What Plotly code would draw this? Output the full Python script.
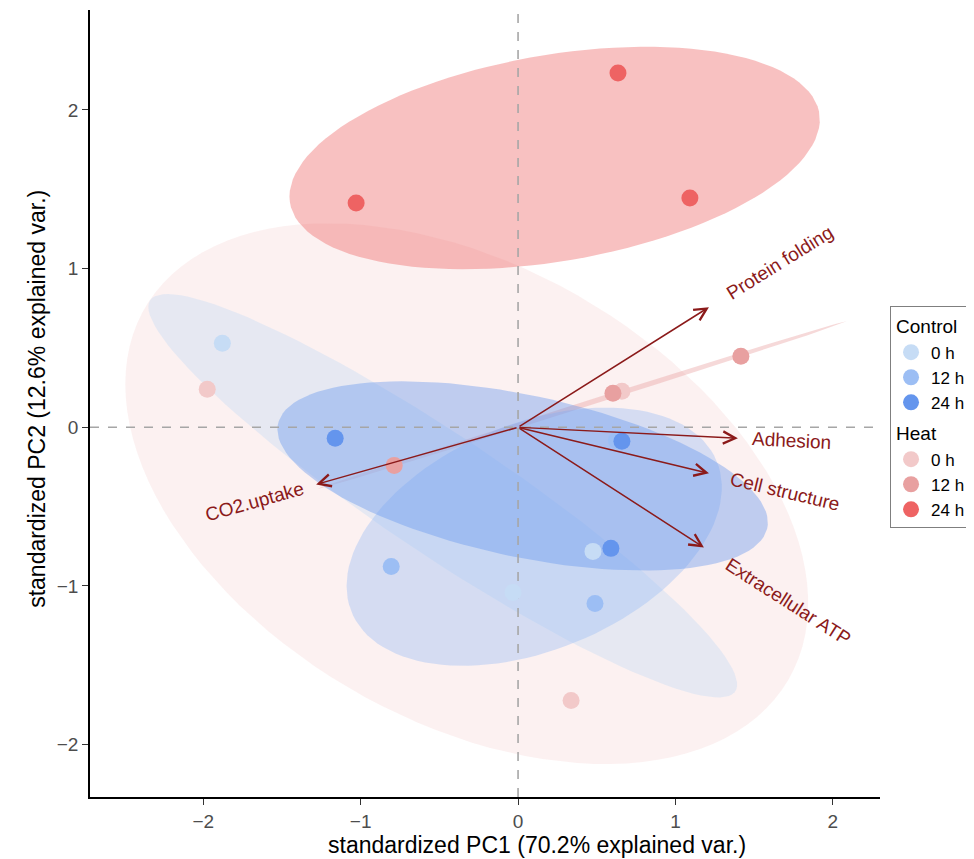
import numpy as np
import plotly.graph_objects as go

# ---------------- data ----------------
time_labels = ["0 h", "12 h", "24 h"]
conditions = ["Control", "Heat"]

control_0h_pc1 = [-1.879, 0.476, -0.032]
control_0h_pc2 = [0.530, -0.782, -1.041]
control_12h_pc1 = [-0.806, 0.489, 0.625]
control_12h_pc2 = [-0.877, -1.110, -0.082]
control_24h_pc1 = [-1.162, 0.590, 0.660]
control_24h_pc2 = [-0.069, -0.763, -0.088]

heat_0h_pc1 = [-1.975, 0.660, 0.337]
heat_0h_pc2 = [0.240, 0.227, -1.722]
heat_12h_pc1 = [1.416, 0.603, -0.787]
heat_12h_pc2 = [0.448, 0.215, -0.240]
heat_24h_pc1 = [0.635, -1.029, 1.092]
heat_24h_pc2 = [2.233, 1.413, 1.445]

var_names = ["Protein folding", "Adhesion", "Cell structure", "Extracellular ATP", "CO2.uptake"]
var_pc1 = [1.213, 1.397, 1.213, 1.181, -1.283]
var_pc2 = [0.757, -0.069, -0.290, -0.757, -0.360]

x_title = "standardized PC1 (70.2% explained var.)"
y_title = "standardized PC2 (12.6% explained var.)"

# ---------------- styles ----------------
group_colors = {
    "Control": ["#C6DCF5", "#9CBEF4", "#6495ED"],
    "Heat": ["#F2C9C9", "#E8A0A0", "#EE6363"],
}
ellipse_alpha = {
    "Control": [0.4, 0.4, 0.4],
    "Heat": [0.26, 0.4, 0.4],
}
label_offset_px = [84, 54, 78, 100, 64]
px_per_unit = 158.0
arrow_color = "#8B1A1A"
FONT = "Liberation Sans, Arial, sans-serif"

groups = {
    ("Control", 0): (control_0h_pc1, control_0h_pc2),
    ("Control", 1): (control_12h_pc1, control_12h_pc2),
    ("Control", 2): (control_24h_pc1, control_24h_pc2),
    ("Heat", 0): (heat_0h_pc1, heat_0h_pc2),
    ("Heat", 1): (heat_12h_pc1, heat_12h_pc2),
    ("Heat", 2): (heat_24h_pc1, heat_24h_pc2),
}


def hex_rgba(h, a):
    h = h.lstrip("#")
    r, g, b = int(h[0:2], 16), int(h[2:4], 16), int(h[4:6], 16)
    return f"rgba({r},{g},{b},{a})"


def normal_ellipse(x, y, prob=0.68, n=120):
    # same construction as ggbiplot: circle %*% chol(sigma) * sqrt(qchisq(prob, 2)) + mu
    pts = np.column_stack([x, y])
    mu = pts.mean(axis=0)
    sigma = np.cov(pts, rowvar=False)
    ed = np.sqrt(-2.0 * np.log(1.0 - prob))
    theta = np.linspace(-np.pi, np.pi, n)
    circle = np.column_stack([np.cos(theta), np.sin(theta)])
    try:
        L = np.linalg.cholesky(sigma).T
    except np.linalg.LinAlgError:
        L = np.linalg.cholesky(sigma + np.eye(2) * 1e-9).T
    e = circle @ L * ed + mu
    return e[:, 0], e[:, 1]


fig = go.Figure()

# ellipses (heat first, then control)
for cond in ["Heat", "Control"]:
    for ti in range(3):
        x, y = groups[(cond, ti)]
        ex, ey = normal_ellipse(x, y)
        fig.add_trace(go.Scatter(
            x=ex, y=ey, mode="lines", fill="toself",
            fillcolor=hex_rgba(group_colors[cond][ti], ellipse_alpha[cond][ti]),
            line=dict(width=0, color=hex_rgba(group_colors[cond][ti], 0)),
            hoverinfo="skip", showlegend=False,
        ))

# dashed reference lines at 0
xr = [-2.72, 2.30]
yr = [-2.33, 2.63]
fig.add_trace(go.Scatter(x=[0, 0], y=yr, mode="lines",
                         line=dict(color="#A6A6A6", width=1.6, dash="dash"),
                         hoverinfo="skip", showlegend=False))
fig.add_trace(go.Scatter(x=xr, y=[0, 0], mode="lines",
                         line=dict(color="#A6A6A6", width=1.6, dash="dash"),
                         hoverinfo="skip", showlegend=False))

# points with legend
for cond in conditions:
    for ti in range(3):
        x, y = groups[(cond, ti)]
        tr = dict(
            x=x, y=y, mode="markers", name=time_labels[ti],
            legendgroup=cond,
            marker=dict(size=17, color=group_colors[cond][ti], line=dict(width=0)),
        )
        if ti == 0:
            tr["legendgrouptitle"] = dict(text=cond, font=dict(size=19, color="black", family=FONT))
        fig.add_trace(go.Scatter(**tr))

# variable arrows and labels
annotations = []
for name, vx, vy, off in zip(var_names, var_pc1, var_pc2, label_offset_px):
    annotations.append(dict(
        x=vx, y=vy, ax=0, ay=0, xref="x", yref="y", axref="x", ayref="y",
        showarrow=True, arrowhead=5, arrowsize=1.6, arrowwidth=1.5,
        arrowcolor=arrow_color, text="",
    ))
    norm = np.hypot(vx, vy)
    ux, uy = vx / norm, vy / norm
    d = off / px_per_unit
    ang = np.degrees(np.arctan(vy / vx))
    annotations.append(dict(
        x=vx + ux * d, y=vy + uy * d, xref="x", yref="y",
        text=name, showarrow=False, textangle=-ang,
        font=dict(size=19, color=arrow_color, family=FONT),
        xanchor="center", yanchor="middle",
    ))

# axis titles
annotations.append(dict(
    text=x_title, x=0.566, y=-0.061, xref="paper", yref="paper",
    showarrow=False, xanchor="center", yanchor="middle",
    font=dict(size=23, color="black", family=FONT),
))
annotations.append(dict(
    text=y_title, x=-0.067, y=0.506, xref="paper", yref="paper",
    showarrow=False, xanchor="center", yanchor="middle", textangle=-90,
    font=dict(size=23, color="black", family=FONT),
))

fig.update_layout(
    width=966, height=851,
    margin=dict(l=82, r=94, t=2, b=62, autoexpand=False),
    paper_bgcolor="white", plot_bgcolor="white",
    font=dict(family=FONT, color="black"),
    annotations=annotations,
    showlegend=True,
    legend=dict(
        x=1.0127, y=0.483, xanchor="left", yanchor="middle",
        bordercolor="#7F7F7F", borderwidth=1, bgcolor="white",
        font=dict(size=17, color="black", family=FONT),
        tracegroupgap=4, itemwidth=30, traceorder="grouped",
    ),
    xaxis=dict(
        range=xr, showgrid=False, zeroline=False, automargin=False,
        showline=True, linecolor="black", linewidth=1.6, mirror=False,
        ticks="outside", ticklen=6, tickcolor="#333333", tickwidth=1,
        tickvals=[-2, -1, 0, 1, 2], ticktext=["\u22122", "\u22121", "0", "1", "2"],
        tickfont=dict(size=19, color="#4D4D4D", family=FONT),
    ),
    yaxis=dict(
        range=yr, showgrid=False, zeroline=False, automargin=False,
        showline=True, linecolor="black", linewidth=1.6, mirror=False,
        ticks="outside", ticklen=6, tickcolor="#333333", tickwidth=1,
        tickvals=[-2, -1, 0, 1, 2], ticktext=["\u22122", "\u22121", "0", "1", "2"],
        tickfont=dict(size=19, color="#4D4D4D", family=FONT),
    ),
)

fig.write_html("out.html")
